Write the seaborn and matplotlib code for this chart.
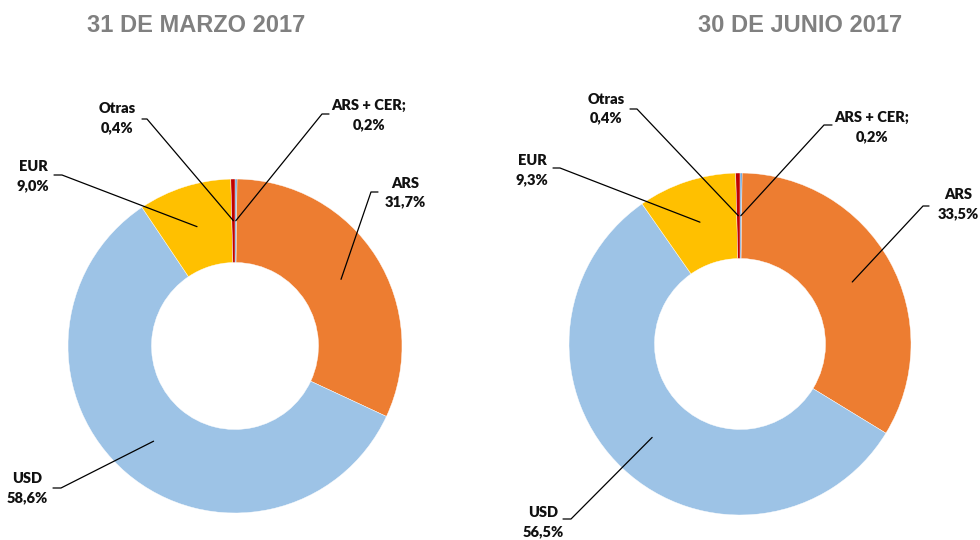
import numpy as np
import seaborn as sns
import matplotlib.pyplot as plt
from matplotlib.lines import Line2D

# donut charts: currency composition, March vs June 2017
categories = ["ARS + CER;", "ARS", "USD", "EUR", "Otras"]
marzo = [0.2, 31.7, 58.6, 9.0, 0.4]
junio = [0.2, 33.5, 56.5, 9.3, 0.4]
titles = ["31 DE MARZO 2017", "30 DE JUNIO 2017"]
colors = ["#5B9BD5", "#ED7D31", "#9DC3E6", "#FFC000", "#C00000"]

sns.set_style("white")
plt.rcParams['font.family'] = ['Lato', 'DejaVu Sans']

W, H = 980, 540
fig = plt.figure(figsize=(W / 100, H / 100), dpi=100)


def px(x, y):
    # image pixel (top-left origin) -> figure fraction
    return x / W, 1 - y / H


# layout per chart: center, radius, title pos, label boxes
layouts = [
    dict(center=(235, 346), radius=167, title=(196, 26),
         labels={"ARS + CER;": ((369, 115), (329, 114), (322, 114)),
                 "ARS": ((405, 193), (378, 192), (371, 192)),
                 "USD": ((27, 488), (53, 488), (61, 488)),
                 "EUR": ((33, 176), (54, 175), (62, 175)),
                 "Otras": ((117, 118), (142, 119), (147, 119))}),
    dict(center=(740, 344), radius=171, title=(800, 26),
         labels={"ARS + CER;": ((872, 127), (832, 125), (824, 125)),
                 "ARS": ((958, 204), (929, 206), (923, 206)),
                 "USD": ((543, 522), (563, 519), (571, 519)),
                 "EUR": ((532, 170), (553, 168), (560, 168)),
                 "Otras": ((606, 109), (630, 109), (637, 109))}),
]

for values, title, lay in zip([marzo, junio], titles, layouts):
    cx, cy = lay["center"]
    r = lay["radius"]
    ax = fig.add_axes([(cx - r) / W, (H - cy - r) / H, 2 * r / W, 2 * r / H])
    wedges, _ = ax.pie(values, colors=colors, startangle=90, counterclock=False,
                       wedgeprops=dict(width=0.5, edgecolor="white", linewidth=0.3))
    ax.set_xlim(-1, 1)
    ax.set_ylim(-1, 1)
    ax.set_aspect("equal")
    ax.axis("off")

    tx, ty = px(*lay["title"])
    fig.text(tx, ty, title, ha="center", va="center", fontsize=17, fontweight="bold",
             color="#808080", family=["Liberation Sans", "DejaVu Sans"])

    for w, cat, val in zip(wedges, categories, values):
        (lx, ly), p0, p1 = lay["labels"][cat]
        fx, fy = px(lx, ly)
        label = f"{cat}\n{val:.1f}%".replace(".", ",")
        fig.text(fx, fy, label, ha="center", va="center", fontsize=10.5,
                 fontweight="heavy", color="#111111", linespacing=1.5)
        # leader line end: middle of the ring at wedge mid-angle
        ang = np.deg2rad((w.theta1 + w.theta2) / 2)
        end = ax.transData.transform((0.75 * np.cos(ang), 0.75 * np.sin(ang)))
        ex, ey = fig.transFigure.inverted().transform(end)
        a, b = px(*p0)
        c, d = px(*p1)
        fig.add_artist(Line2D([a, c, ex], [b, d, ey], color="black", linewidth=0.9,
                              transform=fig.transFigure))

fig.savefig("out.png", dpi=100, facecolor="white")
